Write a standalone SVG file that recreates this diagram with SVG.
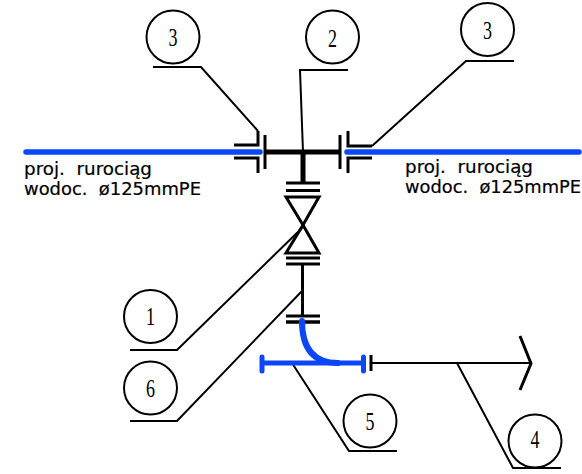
<svg xmlns="http://www.w3.org/2000/svg" width="582" height="474" viewBox="0 0 582 474">
<style>
.l{fill:none;stroke:#000;stroke-width:2}
.m{fill:none;stroke:#000;stroke-width:3}
.t{fill:none;stroke:#000;stroke-width:5}
.b{fill:none;stroke:#0b47f5;stroke-width:5.500;stroke-linecap:round}
.c{fill:#fff;stroke:#000;stroke-width:2}
.n{font-family:"Liberation Serif",serif;font-size:24.500px;fill:#000}
.x{font-family:"DejaVu Sans",sans-serif;font-size:17px;fill:#000;white-space:pre;stroke:#000;stroke-width:0.200}
</style>
<rect width="582" height="474" fill="#fff"/>
<g id="connectors">
<path class="b" d="M26 152H260M347 152H579"/>
<path class="l" d="M153 67H201L258 131M372 146L466 61H514M303 152L300 70H348M302 228L177 350H130M302 291L177 421H130M292 363L349 451H397M457 363L513 468H561"/>
<path class="m" d="M234 145H258V131M258 173V158H234M265 135V169M340 135V169M348 131V146H372M348 173V158H372"/>
<path class="t" d="M265 152H340M303 152V183"/>
<path class="m" d="M286 183H320M286 190.500H320M286 197H319L303 225L286 253H319L303 225ZM286 258H320M286 264H320M302.500 264V316M286 316H320"/>
<path class="t" d="M286 322H320" style="stroke-width:3.500"/>
<path class="b" d="M302 321Q302 363 338 363" style="stroke-width:6"/>
<path class="b" d="M262 363H363M262 357V371M363.500 357V371" style="stroke-width:5"/>
<path class="m" d="M371 355V371"/>
<path class="l" d="M371 363H531"/>
<path class="m" d="M520 336L531 363.500L520 390"/>
</g>
<g id="node-3-left"><circle class="c" cx="173" cy="37" r="26.500"/><text class="n" x="168.500" y="46" textLength="9" lengthAdjust="spacingAndGlyphs">3</text></g>
<g id="node-2"><circle class="c" cx="332.500" cy="37" r="26.500"/><text class="n" x="328" y="47" textLength="9" lengthAdjust="spacingAndGlyphs">2</text></g>
<g id="node-3-right"><circle class="c" cx="487.500" cy="29.500" r="26.500"/><text class="n" x="483" y="38.500" textLength="9" lengthAdjust="spacingAndGlyphs">3</text></g>
<g id="node-1"><circle class="c" cx="150.500" cy="316.500" r="26.500"/><text class="n" x="146" y="325" textLength="9" lengthAdjust="spacingAndGlyphs">1</text></g>
<g id="node-6"><circle class="c" cx="150.500" cy="388" r="26.500"/><text class="n" x="146" y="396.500" textLength="9" lengthAdjust="spacingAndGlyphs">6</text></g>
<g id="node-5"><circle class="c" cx="370" cy="421" r="26.500"/><text class="n" x="365.500" y="429.500" textLength="9" lengthAdjust="spacingAndGlyphs">5</text></g>
<g id="node-4"><circle class="c" cx="535" cy="441" r="26.500"/><text class="n" x="530.500" y="448" textLength="9" lengthAdjust="spacingAndGlyphs">4</text></g>
<g id="label-left"><text class="x" x="24" y="175" textLength="128" lengthAdjust="spacingAndGlyphs">proj.  rurociąg</text><text class="x" x="24" y="195" textLength="177" lengthAdjust="spacingAndGlyphs">wodoc.  ø125mmPE</text></g>
<g id="label-right"><text class="x" x="405" y="173" textLength="128" lengthAdjust="spacingAndGlyphs">proj.  rurociąg</text><text class="x" x="405" y="193" textLength="176" lengthAdjust="spacingAndGlyphs">wodoc.  ø125mmPE</text></g>
</svg>
